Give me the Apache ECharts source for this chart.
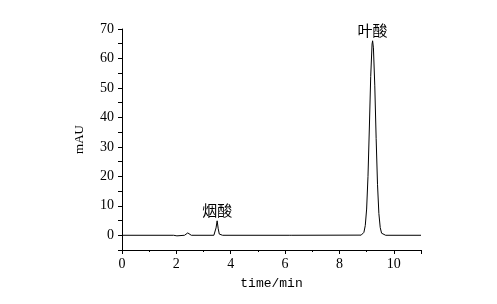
<!DOCTYPE html>
<html><head><meta charset="utf-8">
<script src="https://cdn.jsdelivr.net/npm/echarts@6/dist/echarts.min.js"></script>
<style>html,body{margin:0;padding:0;background:#fff}#c{width:497px;height:304px}</style>
</head><body><div id="c"></div>
<script>
// chromatogram points: time (min)
const times = [0, 1.9, 1.97, 2.02, 2.08, 2.3, 2.37, 2.42, 2.47, 2.55,
  3.38, 3.42, 3.46, 3.5, 3.54, 3.58, 3.62, 3.7,
  6.15, 6.2, 6.25,
  8.8, 8.9, 8.95, 9.0, 9.05, 9.1, 9.15, 9.2, 9.22, 9.25, 9.3, 9.35, 9.4, 9.45, 9.5, 9.55, 9.6, 9.7, 11];
// absorbance (mAU)
const signal = [0, 0, -0.6, -0.2, 0, 0, 0.6, 0.8, 0.3, 0,
  0, 0.4, 2.5, 4.9, 2.2, 0.4, 0.1, 0,
  0, 0.3, 0,
  0.05, 1.0, 3.3, 8.9, 20, 36.4, 53.9, 64.9, 66, 63.6, 50.7, 32.8, 17.3, 7.4, 2.6, 0.7, 0.2, 0, 0];
const peakNames = ['烟酸', '叶酸'];
const peakTimes = [3.5, 9.22];
const peakValues = [4.9, 66];
const xTicks = [0, 2, 4, 6, 8, 10];
const yTicks = [0, 10, 20, 30, 40, 50, 60, 70];

const data = times.map((t, i) => [t, signal[i]]);
const chart = echarts.init(document.getElementById('c'));
const numFont = '"Liberation Serif", serif';
const cjkFont = '"Noto Sans CJK SC", sans-serif';
chart.setOption({
  animation: false,
  grid: {left: 122, right: 76, top: 29, bottom: 54},
  xAxis: {
    type: 'value', min: 0, max: 11, interval: 2,
    name: 'time/min', nameLocation: 'middle', nameGap: 27,
    nameTextStyle: {color: '#000', fontSize: 13, fontFamily: '"Liberation Mono", monospace'},
    axisLine: {show: true, onZero: false, lineStyle: {color: '#000', width: 1}},
    axisTick: {show: true, length: 4, lineStyle: {color: '#000'}},
    minorTick: {show: true, splitNumber: 2, length: 2, lineStyle: {color: '#000'}},
    axisLabel: {color: '#000', fontSize: 14, margin: 7, fontFamily: numFont,
      formatter: v => xTicks.includes(v) ? String(v) : ''},
    splitLine: {show: false}
  },
  yAxis: {
    type: 'value', min: -5, max: 70, interval: 5,
    name: 'mAU', nameLocation: 'middle', nameGap: 36, nameRotate: 90,
    nameTextStyle: {color: '#000', fontSize: 13, fontFamily: numFont},
    axisLine: {show: true, onZero: false, lineStyle: {color: '#000', width: 1}},
    axisTick: {show: true, length: 4, lineStyle: {color: '#000'}},
    axisLabel: {color: '#000', fontSize: 14, margin: 8, fontFamily: numFont,
      formatter: v => yTicks.includes(v) ? String(v) : ''},
    splitLine: {show: false}
  },
  series: [{
    type: 'line', data: data, showSymbol: false, symbol: 'none',
    lineStyle: {color: '#000', width: 1},
    markPoint: {
      symbol: 'circle', symbolSize: 0,
      label: {show: true, position: 'top', distance: 3, color: '#000', fontSize: 15, fontFamily: cjkFont, formatter: p => p.name},
      data: peakNames.map((n, i) => ({name: n, coord: [peakTimes[i], peakValues[i]]}))
    }
  }]
});
</script></body></html>
